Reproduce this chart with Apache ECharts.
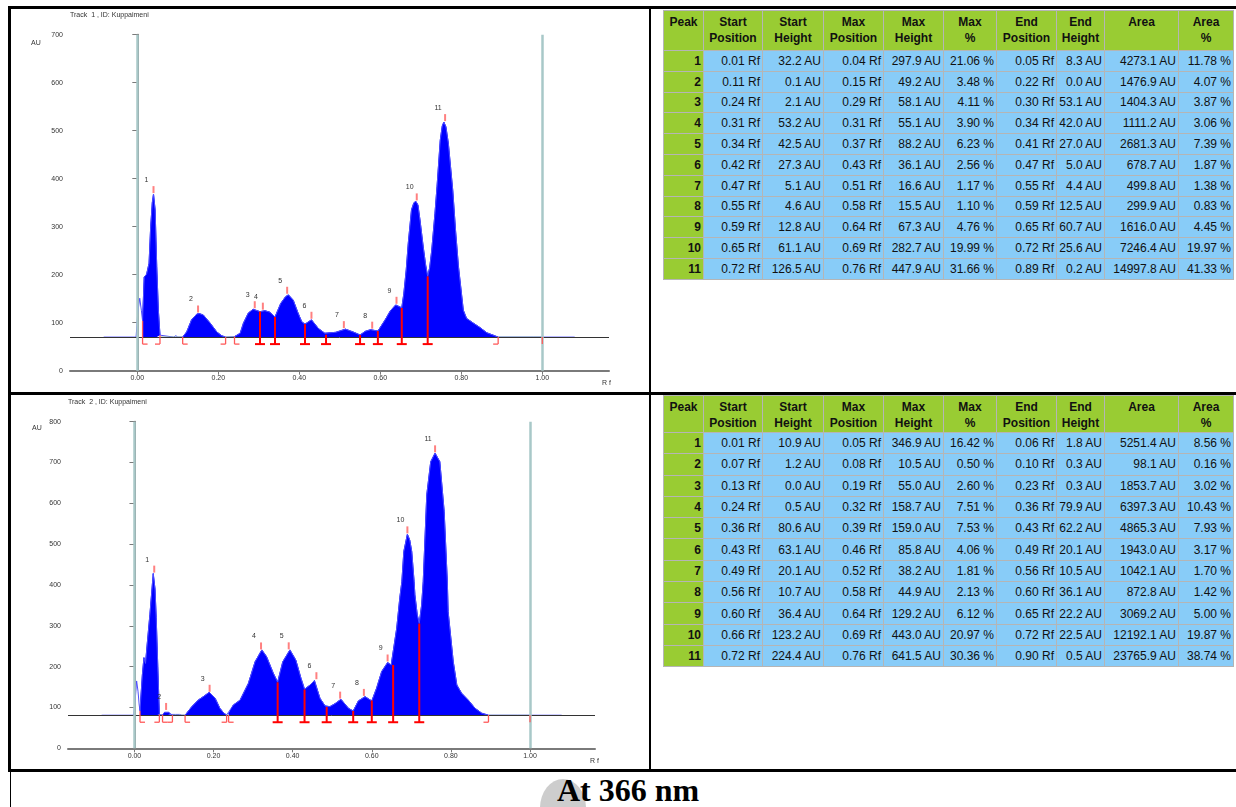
<!DOCTYPE html>
<html><head><meta charset="utf-8">
<script src="https://cdn.jsdelivr.net/npm/echarts@6/dist/echarts.min.js"></script>
<style>
html,body{margin:0;padding:0;background:#fff;width:1236px;height:807px;overflow:hidden;position:relative;font-family:"Liberation Sans",Arial,sans-serif;}
#chart{position:absolute;left:0;top:0;width:650px;height:770px;}
.bd{position:absolute;background:#000;z-index:5;}
table.pk{position:absolute;border-collapse:collapse;table-layout:fixed;font-size:12px;color:#111;z-index:3;}
table.pk th{background:#99cc33;font-weight:bold;vertical-align:top;text-align:center;border:1px solid #b5b5b5;padding:3px 0 0 0;line-height:16px;overflow:hidden;}
table.pk td{background:#88ccf8;text-align:right;border:1px solid #b5b5b5;padding:0 2px 0 0;white-space:nowrap;overflow:hidden;}
table.pk td.n{background:#99cc33;font-weight:bold;border-top:1px solid #e6f2cc;}
#cap{position:absolute;left:10px;top:772px;width:1236px;text-align:center;font:bold 32px "Liberation Serif","Times New Roman",serif;line-height:36px;z-index:2;}
#blob{position:absolute;left:540px;top:779px;width:46px;height:58px;border-radius:50%;background:#cdcdcd;z-index:1;}
</style></head>
<body>
<div id="chart"></div>
<table class="pk" id="tab1"></table>
<table class="pk" id="tab2"></table>
<div id="blob"></div>
<div id="cap">At 366 nm</div>
<div class="bd" style="left:8px;top:6px;width:1228px;height:3px"></div>
<div class="bd" style="left:8px;top:6px;width:3px;height:766px"></div>
<div class="bd" style="left:8px;top:392px;width:1228px;height:3px"></div>
<div class="bd" style="left:649px;top:6px;width:2px;height:766px"></div>
<div class="bd" style="left:8px;top:769px;width:1228px;height:3px"></div>
<div class="bd" style="left:10px;top:771px;width:1px;height:36px"></div>
<script>
// ---------------- DATA ----------------
const xTickValues = [0, 0.2, 0.4, 0.6, 0.8, 1.0];
const t1Title = 'Track  1 , ID: Kuppaimeni';
const t2Title = 'Track  2 , ID: Kuppaimeni';
const t1Baseline = 70;
const t2Baseline = 81;

// Track 1 densitogram profile [Rf, AU]
const t1Profile = [[-0.083,70],[-0.003,70],[0.001,120],[0.006,151],[0.010,126],[0.013,104],[0.017,195],[0.023,201],[0.029,224],[0.033,300],[0.037,350],[0.040,368],[0.044,335],[0.048,217],[0.052,126],[0.056,74],[0.060,70],[0.090,70],[0.095,73],[0.100,70],[0.112,70],[0.122,81],[0.134,106],[0.147,118],[0.153,119],[0.163,116],[0.180,99],[0.196,81],[0.208,73],[0.218,70],[0.240,71],[0.254,78],[0.262,99],[0.274,120],[0.286,128],[0.303,123],[0.315,125],[0.327,122],[0.340,112],[0.354,140],[0.366,154],[0.373,158],[0.385,147],[0.397,120],[0.406,102],[0.414,97],[0.430,106],[0.447,88],[0.463,78],[0.466,75],[0.490,80],[0.514,86.6],[0.535,80],[0.550,74.4],[0.563,82],[0.576,85.5],[0.594,82.5],[0.612,106],[0.625,125],[0.638,137],[0.653,131],[0.658,160],[0.664,210],[0.669,265],[0.677,335],[0.683,350],[0.688,352.7],[0.693,345],[0.698,314],[0.706,258],[0.712,220],[0.717,196.5],[0.722,215],[0.727,251],[0.735,328],[0.740,383],[0.748,480],[0.753,510],[0.757,517.9],[0.762,508],[0.768,474],[0.779,375],[0.786,290],[0.793,217],[0.805,126],[0.813,109],[0.830,99],[0.846,90],[0.863,79],[0.879,74],[0.891,70],[0.970,70],[0.974,72],[0.978,70],[1.080,70]];
const t1FillRanges = [[0.013,0.056],[0.112,0.218],[0.240,0.891]];
const t1GapRanges = [[0.056,0.112],[0.218,0.240],[0.891,1.0]];
// boundary marks [Rf, height above baseline, kind] kind: 0=start,1=end,2=shared,3=tick
const t1Boundaries = [[0.013,34,0],[0.056,4,1],[0.112,0,0],[0.218,0,1],[0.240,1,0],[0.303,53.1,2],[0.340,42.0,2],[0.414,27.0,2],[0.466,5.0,2],[0.550,4.4,2],[0.594,12.5,2],[0.653,60.7,2],[0.717,126.5,2],[0.891,0,1],[1.0,0,3]];

// Track 1 table
const t1Peak = [1,2,3,4,5,6,7,8,9,10,11];
const t1StartPos = [0.01,0.11,0.24,0.31,0.34,0.42,0.47,0.55,0.59,0.65,0.72];
const t1StartH = [32.2,0.1,2.1,53.2,42.5,27.3,5.1,4.6,12.8,61.1,126.5];
const t1MaxPos = [0.04,0.15,0.29,0.31,0.37,0.43,0.51,0.58,0.64,0.69,0.76];
const t1MaxH = [297.9,49.2,58.1,55.1,88.2,36.1,16.6,15.5,67.3,282.7,447.9];
const t1MaxPct = [21.06,3.48,4.11,3.90,6.23,2.56,1.17,1.10,4.76,19.99,31.66];
const t1EndPos = [0.05,0.22,0.30,0.34,0.41,0.47,0.55,0.59,0.65,0.72,0.89];
const t1EndH = [8.3,0.0,53.1,42.0,27.0,5.0,4.4,12.5,60.7,25.6,0.2];
const t1Area = [4273.1,1476.9,1404.3,1111.2,2681.3,678.7,499.8,299.9,1616.0,7246.4,14997.8];
const t1AreaPct = [11.78,4.07,3.87,3.06,7.39,1.87,1.38,0.83,4.45,19.97,41.33];

// Track 2 densitogram profile [Rf, AU]
const t2Profile = [[-0.083,81],[-0.002,81],[0.002,120],[0.0055,165],[0.009,140],[0.012,106],[0.014,92],[0.020,180],[0.024,222],[0.028,208],[0.032,253],[0.039,327],[0.0475,428],[0.052,390],[0.055,320],[0.059,200],[0.063,83],[0.067,81],[0.071,82],[0.076,88],[0.081,92],[0.087,88],[0.092,83],[0.096,81],[0.104,83],[0.109,86],[0.114,83],[0.120,81],[0.128,81],[0.145,102],[0.161,118],[0.174,126.5],[0.189,137],[0.204,122.5],[0.216,98],[0.226,86],[0.233,81.6],[0.238,84],[0.250,106],[0.267,118],[0.288,159],[0.305,212],[0.322,241],[0.334,224.5],[0.351,184],[0.362,162],[0.375,212],[0.393,241],[0.408,216],[0.421,171.6],[0.430,144.6],[0.444,155],[0.455,166],[0.469,122.5],[0.482,103.7],[0.486,101],[0.494,102],[0.508,110],[0.522,120],[0.541,98],[0.553,91.4],[0.566,116],[0.583,126.5],[0.600,116],[0.612,147],[0.625,188],[0.640,210],[0.649,204],[0.654,204],[0.663,294],[0.671,370],[0.676,408],[0.681,482],[0.690,524.5],[0.696,510],[0.701,482],[0.707,408],[0.709,376],[0.715,327],[0.720,306],[0.726,351],[0.730,408],[0.739,621],[0.749,702],[0.760,723],[0.772,702],[0.783,580],[0.791,408],[0.793,335],[0.806,212],[0.815,155],[0.827,135],[0.844,118],[0.861,98],[0.878,86],[0.895,81],[0.968,81],[0.970,83],[0.972,81],[1.080,81]];
const t2FillRanges = [[0.014,0.063],[0.071,0.096],[0.128,0.233],[0.238,0.895]];
const t2GapRanges = [[0.063,0.071],[0.096,0.128],[0.233,0.238],[0.895,1.0]];
const t2Boundaries = [[0.014,10.9,0],[0.063,1.8,1],[0.071,1.2,0],[0.096,0.3,1],[0.128,0,0],[0.233,0.3,1],[0.238,0.5,0],[0.362,80.6,2],[0.430,63.1,2],[0.486,20.1,2],[0.553,10.5,2],[0.600,36.1,2],[0.654,123.2,2],[0.720,224.4,2],[0.895,0.5,1],[1.0,0,3]];

// Track 2 table
const t2Peak = [1,2,3,4,5,6,7,8,9,10,11];
const t2StartPos = [0.01,0.07,0.13,0.24,0.36,0.43,0.49,0.56,0.60,0.66,0.72];
const t2StartH = [10.9,1.2,0.0,0.5,80.6,63.1,20.1,10.7,36.4,123.2,224.4];
const t2MaxPos = [0.05,0.08,0.19,0.32,0.39,0.46,0.52,0.58,0.64,0.69,0.76];
const t2MaxH = [346.9,10.5,55.0,158.7,159.0,85.8,38.2,44.9,129.2,443.0,641.5];
const t2MaxPct = [16.42,0.50,2.60,7.51,7.53,4.06,1.81,2.13,6.12,20.97,30.36];
const t2EndPos = [0.06,0.10,0.23,0.36,0.43,0.49,0.56,0.60,0.65,0.72,0.90];
const t2EndH = [1.8,0.3,0.3,79.9,62.2,20.1,10.5,36.1,22.2,22.5,0.5];
const t2Area = [5251.4,98.1,1853.7,6397.3,4865.3,1943.0,1042.1,872.8,3069.2,12192.1,23765.9];
const t2AreaPct = [8.56,0.16,3.02,10.43,7.93,3.17,1.70,1.42,5.00,19.87,38.74];

const headers = ['Peak','Start<br>Position','Start<br>Height','Max<br>Position','Max<br>Height','Max<br>%','End<br>Position','End<br>Height','Area','Area<br>%'];

// ---------------- TABLES ----------------
const colW = [40,59,61,60,60,53,60,48,74,55];
function buildTable(id, left, top, headH, rowH, cols){
  const t = document.getElementById(id);
  t.style.left = left + 'px'; t.style.top = top + 'px';
  let h = '<colgroup>' + colW.map(w => '<col style="width:' + w + 'px">').join('') + '</colgroup>';
  h += '<tr style="height:' + headH + 'px">' + headers.map(x => '<th>' + x + '</th>').join('') + '</tr>';
  for (let i = 0; i < cols[0].length; i++) {
    h += '<tr style="height:' + rowH + 'px"><td class="n">' + cols[0][i] + '</td>' +
      '<td>' + cols[1][i].toFixed(2) + ' Rf</td>' +
      '<td>' + cols[2][i].toFixed(1) + ' AU</td>' +
      '<td>' + cols[3][i].toFixed(2) + ' Rf</td>' +
      '<td>' + cols[4][i].toFixed(1) + ' AU</td>' +
      '<td>' + cols[5][i].toFixed(2) + ' %</td>' +
      '<td>' + cols[6][i].toFixed(2) + ' Rf</td>' +
      '<td>' + cols[7][i].toFixed(1) + ' AU</td>' +
      '<td>' + cols[8][i].toFixed(1) + ' AU</td>' +
      '<td>' + cols[9][i].toFixed(2) + ' %</td></tr>';
  }
  t.innerHTML = h;
}
buildTable('tab1', 663, 10, 40, 20.8, [t1Peak,t1StartPos,t1StartH,t1MaxPos,t1MaxH,t1MaxPct,t1EndPos,t1EndH,t1Area,t1AreaPct]);
buildTable('tab2', 663, 395, 37, 21.3, [t2Peak,t2StartPos,t2StartH,t2MaxPos,t2MaxH,t2MaxPct,t2EndPos,t2EndH,t2Area,t2AreaPct]);

// ---------------- CHART ----------------
const chart = echarts.init(document.getElementById('chart'), null, {renderer:'canvas'});
const axisGrey = '#7a7a7a';
function xAx(gi, min, max){
  return {type:'value', gridIndex:gi, min:min, max:max,
    axisLine:{show:true, onZero:false, lineStyle:{color:axisGrey, width:2}},
    axisTick:{show:true, length:4, customValues:xTickValues, lineStyle:{color:axisGrey, width:1}},
    axisLabel:{show:true, customValues:xTickValues, formatter:v => v.toFixed(2), fontSize:7, color:'#333', margin:4, fontFamily:'Liberation Sans'},
    splitLine:{show:false}};
}
function yAx(gi, max){
  return {type:'value', gridIndex:gi, min:0, max:max, interval:100,
    axisLine:{show:true, lineStyle:{color:axisGrey, width:2}},
    axisTick:{show:true, length:5, lineStyle:{color:axisGrey, width:1}},
    axisLabel:{fontSize:7, color:'#333', margin:7, fontFamily:'Liberation Sans'},
    splitLine:{show:false}};
}
function inRange(p, r){ return p[0] >= r[0] - 1e-9 && p[0] <= r[1] + 1e-9; }
function boundaryRender(B){
  return function(params, api){
    const rf = api.value(0), h = api.value(1), k = api.value(2);
    const base = api.coord([rf, B]);
    const top = api.coord([rf, B + h]);
    const x = base[0], yb = base[1] + 7;
    const col = k === 2 ? '#ff0000' : '#ff5a5a';
    const w = k === 2 ? 2 : 1.3;
    const ch = [{type:'line', shape:{x1:x, y1:top[1], x2:x, y2:yb}, style:{stroke:col, lineWidth:w}}];
    if (k === 0) ch.push({type:'line', shape:{x1:x, y1:yb, x2:x+5, y2:yb}, style:{stroke:col, lineWidth:1.3}});
    if (k === 1) ch.push({type:'line', shape:{x1:x-5, y1:yb, x2:x, y2:yb}, style:{stroke:col, lineWidth:1.3}});
    if (k === 2) ch.push({type:'line', shape:{x1:x-5, y1:yb, x2:x+5, y2:yb}, style:{stroke:col, lineWidth:2}});
    return {type:'group', children:ch};
  };
}
function peakRender(B){
  return function(params, api){
    const c = api.coord([api.value(0), B + api.value(1)]);
    return {type:'group', children:[
      {type:'line', shape:{x1:c[0], y1:c[1]-1, x2:c[0], y2:c[1]-8}, style:{stroke:'#ff8080', lineWidth:2}},
      {type:'text', x:c[0]-7, y:c[1]-14, style:{text:String(api.value(2)), fontSize:7, fontFamily:'Liberation Sans', fill:'#333', align:'center', verticalAlign:'middle'}}
    ]};
  };
}
function trackSeries(gi, B, profile, fills, gaps, bounds, peaks, maxPos, maxH){
  const s = [];
  fills.forEach(r => s.push({type:'line', xAxisIndex:gi, yAxisIndex:gi, data:profile.filter(p => inRange(p, r)),
    symbol:'none', silent:true, z:2, lineStyle:{color:'#0000ff', width:1}, areaStyle:{color:'#0000ff', opacity:1, origin:B}}));
  s.push({type:'line', xAxisIndex:gi, yAxisIndex:gi, data:profile, symbol:'none', silent:true, z:3,
    lineStyle:{color:'#4d4dff', width:1},
    markLine:{silent:true, symbol:'none', label:{show:false}, animation:false,
      data:[{yAxis:B, lineStyle:{color:'#333', width:1, type:'solid'}},
            {xAxis:0, lineStyle:{color:'#a8c8c8', width:2.5, type:'solid'}},
            {xAxis:1, lineStyle:{color:'#a8c8c8', width:2.5, type:'solid'}}]}});
  gaps.forEach(r => s.push({type:'line', xAxisIndex:gi, yAxisIndex:gi, data:[[r[0],B],[r[1],B]], symbol:'none', silent:true, z:4,
    lineStyle:{color:'#8fb5b5', width:1.2}}));
  s.push({type:'custom', xAxisIndex:gi, yAxisIndex:gi, data:bounds, renderItem:boundaryRender(B), z:6, silent:true});
  s.push({type:'custom', xAxisIndex:gi, yAxisIndex:gi, data:peaks.map((n,i) => [maxPos[i], maxH[i], n]), renderItem:peakRender(B), z:7, silent:true});
  return s;
}
const txt = (x, y, t, extra) => Object.assign({type:'text', x:x, y:y, style:Object.assign({text:t, fontSize:7, fontFamily:'Liberation Sans', fill:'#333'}, extra||{})});
chart.setOption({
  animation:false,
  grid:[{left:70, top:34.7, width:539, height:336}, {left:68, top:421.7, width:527, height:326.6}],
  xAxis:[xAx(0, -0.1662, 1.1647), xAx(1, -0.168, 1.1643)],
  yAxis:[yAx(0, 700), yAx(1, 800)],
  graphic:[
    txt(70, 12, t1Title), txt(31, 40, 'AU'), txt(602, 380, 'R f'),
    txt(68, 399, t2Title), txt(32, 425, 'AU'), txt(590, 758, 'R f')
  ],
  series:[].concat(
    trackSeries(0, t1Baseline, t1Profile, t1FillRanges, t1GapRanges, t1Boundaries, t1Peak, t1MaxPos, t1MaxH),
    trackSeries(1, t2Baseline, t2Profile, t2FillRanges, t2GapRanges, t2Boundaries, t2Peak, t2MaxPos, t2MaxH)
  )
});
</script>
</body></html>
